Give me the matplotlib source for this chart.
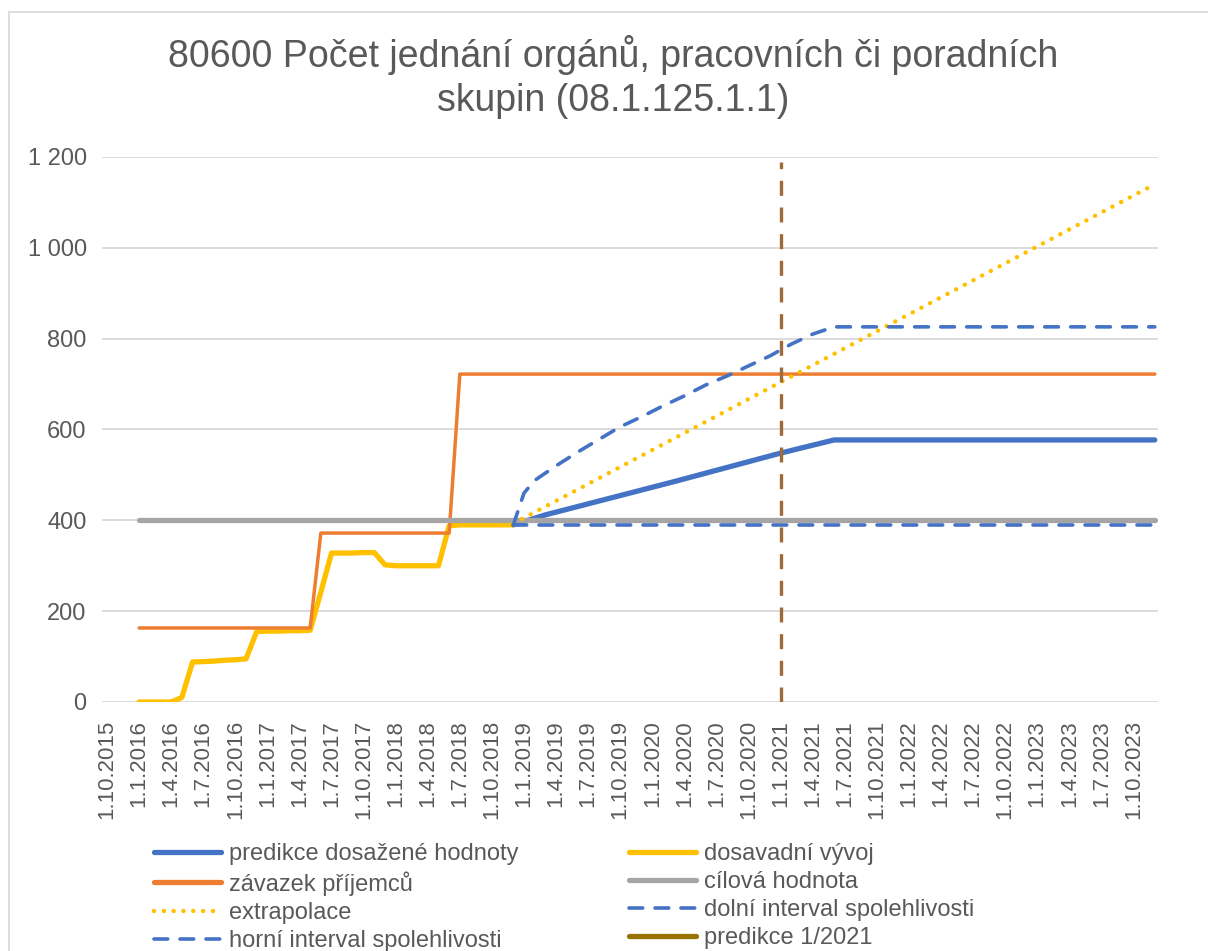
import matplotlib
matplotlib.use("Agg")
import matplotlib.pyplot as plt
from matplotlib.lines import Line2D
from matplotlib.patches import Rectangle

plt.rcParams['font.family'] = ['Liberation Sans', 'DejaVu Sans']

# x = month index, 0 = 1.10.2015
tick_months = list(range(0, 97, 3))
tick_labels = []
for i, m in enumerate(tick_months):
    month = [10, 1, 4, 7][i % 4]
    year = 2015 + (i + 3) // 4
    tick_labels.append(f"1.{month}.{year}")

# dosavadni vyvoj (monthly, 1.1.2016 - 1.12.2018)
hist_x = list(range(3, 39))
hist_y = [0, 0, 0, 0, 10, 88, 89, 90, 92, 93, 95, 155,
          156, 156, 157, 157, 158, 242, 328, 328, 328, 329, 329, 302,
          300, 300, 300, 300, 300, 388, 390, 390, 390, 390, 390, 390]

# zavazek prijemcu
commit_x = [3, 19, 20, 32, 33, 98]
commit_y = [163, 163, 372, 372, 722, 722]

# cilova hodnota
target_x = [3, 98]
target_y = [400, 400]

# predikce dosazene hodnoty
pred_x = [38, 41, 53, 63, 68, 98]
pred_y = [390, 412, 485, 548, 577, 577]

# extrapolace
extra_x = [38, 98]
extra_y = [393, 1140]

# dolni interval spolehlivosti
low_x = [38, 98]
low_y = [389, 389]

# horni interval spolehlivosti
up_x = [38, 39, 40, 42, 44, 46, 48, 50, 52, 54, 56, 58, 60, 62, 64, 66, 68, 98]
up_y = [390, 460, 488, 520, 550, 578, 606, 628, 652, 674, 698, 718, 740,
        762, 788, 810, 826, 826]

# predikce 1/2021
cut_x = 63
cut_y = [0, 1190]

fig = plt.figure(figsize=(12.08, 9.51), dpi=100)
ax = fig.add_axes([102 / 1208, 1 - 702 / 951, 1056 / 1208, 545 / 951])

fig.patches.append(Rectangle((8.5 / 1208, -0.1), 1.2, (951 - 11.5) / 951 + 0.1,
                             transform=fig.transFigure, fill=False,
                             edgecolor='#D9D9D9', lw=1.3, zorder=0))

blue = '#4472C4'
orange = '#ED7D31'
gray = '#A5A5A5'
yellow = '#FFC000'
brown = '#9E6A38'
olive = '#997300'

dot_style = dict(color=yellow, lw=3.2, linestyle=(0, (0.01, 2.2)), dash_capstyle='round')
dash_style = dict(color=blue, lw=2.6, linestyle=(0, (3.8, 3.4)), dash_capstyle='round')

ax.plot(pred_x, pred_y, color=blue, lw=3.8, solid_capstyle='round', zorder=3)
ax.plot(hist_x, hist_y, color=yellow, lw=3.8, solid_capstyle='round', zorder=3)
ax.plot(commit_x, commit_y, color=orange, lw=2.5, solid_capstyle='round', zorder=4)
ax.plot(target_x, target_y, color=gray, lw=3.8, solid_capstyle='round', zorder=4)
ax.plot(extra_x, extra_y, zorder=5, **dot_style)
ax.plot(low_x, low_y, zorder=5, **dash_style)
ax.plot(up_x, up_y, zorder=5, **dash_style)
ax.plot([cut_x, cut_x], cut_y, color=brown, lw=2.4, linestyle=(0, (4.5, 3.5)),
        zorder=6)

ax.set_xlim(-0.47, 98.3)
ax.set_ylim(0, 1200)
ax.set_yticks(range(0, 1201, 200))
ax.set_yticklabels([f"{v:,}".replace(",", " ") for v in range(0, 1201, 200)])
ax.set_xticks(tick_months)
ax.set_xticklabels(tick_labels, rotation=90)
ax.tick_params(axis='both', length=0, colors='#595959')
ax.tick_params(axis='y', pad=11, labelsize=17)
ax.tick_params(axis='x', pad=13, labelsize=16)
ax.grid(axis='y', color='#D9D9D9', lw=1.3)
ax.set_axisbelow(True)
for s in ax.spines.values():
    s.set_visible(False)

fig.text(613 / 1208, 1 - 55 / 951, "80600 Počet jednání orgánů, pracovních či poradních",
         ha='center', va='center', fontsize=27, color='#595959')
fig.text(613 / 1208, 1 - 101 / 951, "skupin (08.1.125.1.1)",
         ha='center', va='center', fontsize=27, color='#595959')

h1 = [Line2D([], [], color=blue, lw=3.8, solid_capstyle='round'),
      Line2D([], [], color=orange, lw=3.8, solid_capstyle='round'),
      Line2D([], [], **dot_style),
      Line2D([], [], **dash_style)]
l1 = ["predikce dosažené hodnoty", "závazek příjemců", "extrapolace",
      "horní interval spolehlivosti"]
h2 = [Line2D([], [], color=yellow, lw=3.8, solid_capstyle='round'),
      Line2D([], [], color=gray, lw=3.8, solid_capstyle='round'),
      Line2D([], [], **dash_style),
      Line2D([], [], color=olive, lw=3.8, solid_capstyle='round')]
l2 = ["dosavadní vývoj", "cílová hodnota", "dolní interval spolehlivosti",
      "predikce 1/2021"]

for hs, ls, x0 in [(h1, l1, 154), (h2, l2, 629)]:
    leg = fig.legend(hs, ls, loc='upper left', bbox_to_anchor=(x0 / 1208, 1 - 843 / 951),
                     frameon=False, fontsize=17, handlelength=2.85, handletextpad=0.33,
                     labelspacing=0.26, borderpad=0, borderaxespad=0)
    for t in leg.get_texts():
        t.set_color('#595959')

fig.savefig("out.png", dpi=100)
